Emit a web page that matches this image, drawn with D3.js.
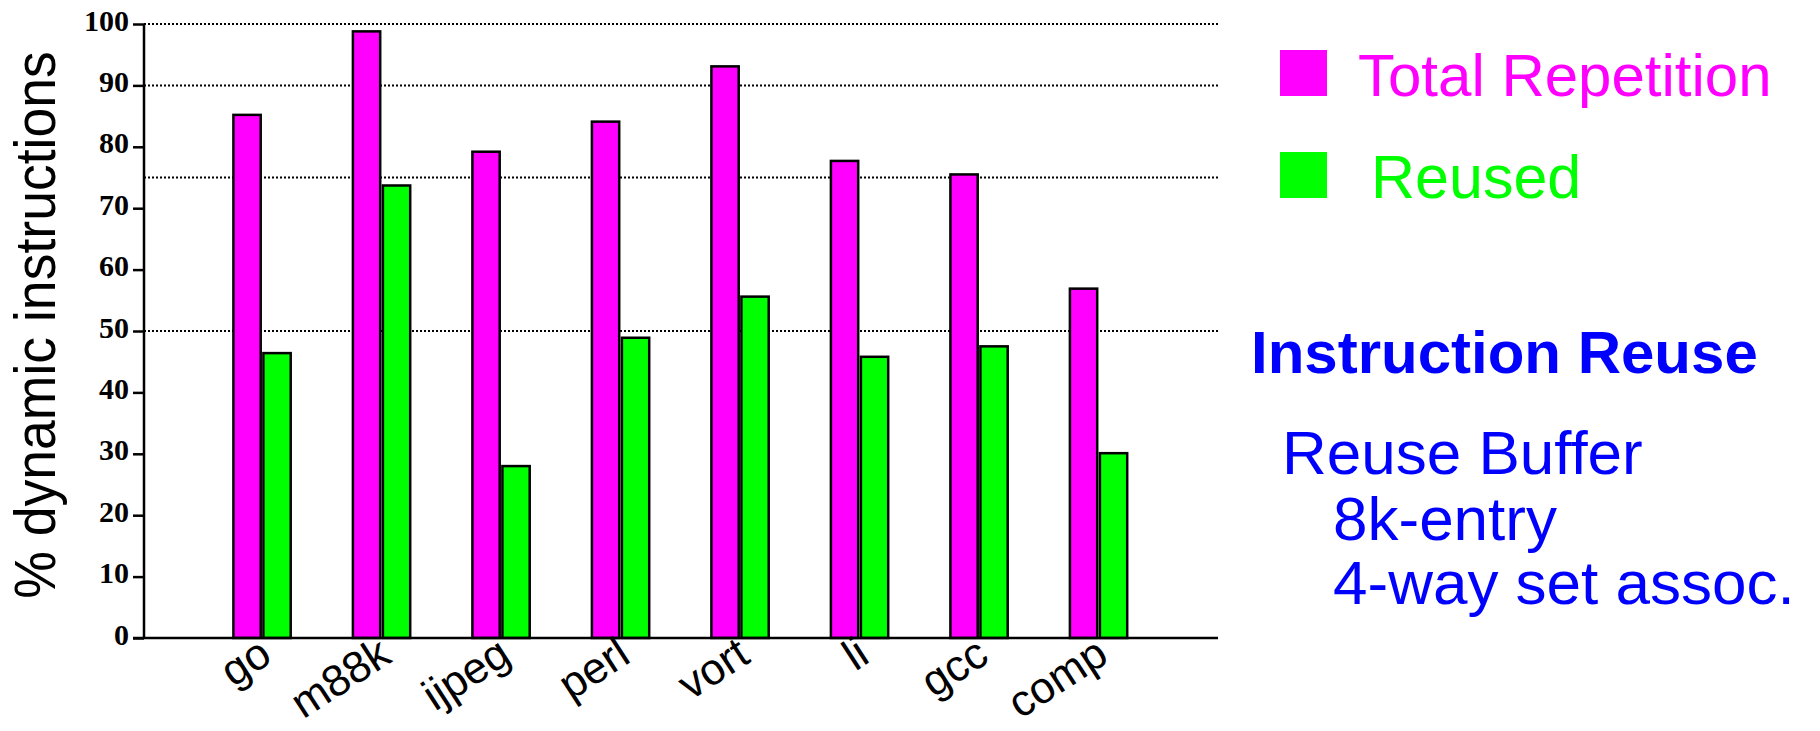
<!DOCTYPE html>
<html>
<head>
<meta charset="utf-8">
<script src="https://cdn.jsdelivr.net/npm/d3@7"></script>
<style>
  html, body { margin: 0; padding: 0; background: #ffffff; }
  svg { display: block; }
</style>
</head>
<body>
<div id="chart"></div>
<script>
// ---- data ----
const categories = ["go", "m88k", "ijpeg", "perl", "vort", "li", "gcc", "comp"];
const totalRepetition = [85.2, 98.8, 79.2, 84.1, 93.1, 77.7, 75.5, 56.9];
const reused = [46.4, 73.7, 28.0, 48.9, 55.6, 45.8, 47.5, 30.1];
const seriesNames = ["Total Repetition", "Reused"];
const yTicks = [0, 10, 20, 30, 40, 50, 60, 70, 80, 90, 100];
const gridValues = [100, 90, 75, 50];
const yLabel = "% dynamic instructions";
const noteTitle = "Instruction Reuse";
const noteLines = ["Reuse Buffer", "8k-entry", "4-way set assoc."];

// ---- layout ----
const W = 1820, H = 731;
const colors = { "Total Repetition": "#ff00ff", "Reused": "#00ff00" };
const axisX = 144, plotRight = 1218;

const svg = d3.select("#chart").append("svg")
  .attr("width", W).attr("height", H)
  .style("font-family", "'Liberation Sans', Arial, Helvetica, sans-serif");

svg.append("rect").attr("width", W).attr("height", H).attr("fill", "#fff");

const y = d3.scaleLinear().domain([0, 100]).range([638, 24]);
const x = d3.scaleBand().domain(categories).range([202.3, 1158.3]).padding(0);
const xs = d3.scaleBand().domain(seriesNames).range([-28.65, 28.65]).paddingInner(0.09);

// gridlines
svg.append("g").selectAll("line").data(gridValues).join("line")
  .attr("x1", axisX).attr("x2", plotRight)
  .attr("y1", d => y(d)).attr("y2", d => y(d))
  .attr("stroke", "#000").attr("stroke-width", 2)
  .attr("stroke-dasharray", "2,2");

// bars
const rows = categories.map((c, i) => ({ c, vals: [
  { s: "Total Repetition", v: totalRepetition[i] },
  { s: "Reused", v: reused[i] } ] }));

const groups = svg.append("g").selectAll("g").data(rows).join("g")
  .attr("transform", d => `translate(${x(d.c) + x.bandwidth() / 2},0)`);

groups.selectAll("rect").data(d => d.vals).join("rect")
  .attr("x", d => xs(d.s))
  .attr("width", xs.bandwidth())
  .attr("y", d => y(d.v))
  .attr("height", d => y(0) - y(d.v))
  .attr("fill", d => colors[d.s])
  .attr("stroke", "#000").attr("stroke-width", 2.5);

// y axis
const yAxis = d3.axisLeft(y).tickValues(yTicks).tickSize(11).tickPadding(4).tickFormat(d3.format("d"));
const ag = svg.append("g").attr("transform", `translate(${axisX},0)`).call(yAxis);
ag.select(".domain").attr("stroke", "#000").attr("stroke-width", 2.5).attr("d", `M0,${y(100)}V${y(0)}`);
ag.selectAll(".tick line").attr("stroke", "#000").attr("stroke-width", 2.5);
ag.selectAll(".tick text")
  .attr("fill", "#000")
  .attr("dy", "0.2em")
  .style("font-family", "'Liberation Serif', 'Times New Roman', serif")
  .style("font-weight", "bold")
  .style("font-size", "30px");

// baseline
svg.append("line").attr("x1", axisX - 11).attr("x2", plotRight)
  .attr("y1", y(0)).attr("y2", y(0))
  .attr("stroke", "#000").attr("stroke-width", 2.5);

// y label
svg.append("text")
  .attr("transform", `translate(55,${(y(0) + y(100)) / 2 - 6}) rotate(-90) scale(0.94,1)`)
  .attr("text-anchor", "middle")
  .style("font-size", "57px")
  .attr("fill", "#000")
  .text(yLabel);

// category labels
svg.append("g").selectAll("text").data(categories).join("text")
  .attr("transform", d => `translate(${x(d) + x.bandwidth() / 2 + 12},661) rotate(-33)`)
  .attr("text-anchor", "end")
  .style("font-size", "44px")
  .attr("fill", "#000")
  .text(d => d);

// legend
const lg = svg.append("g").selectAll("g").data(seriesNames).join("g")
  .attr("transform", (d, i) => `translate(1280,${50 + i * 102})`);
lg.append("rect").attr("width", 47).attr("height", 46).attr("fill", d => colors[d]);
lg.append("text").attr("x", (d, i) => i === 0 ? 78 : 91).attr("y", 46)
  .style("font-size", (d, i) => i === 0 ? "60px" : "61px").attr("fill", d => colors[d]).text(d => d);

// notes
svg.append("text").attr("x", 1251).attr("y", 373)
  .style("font-size", "60px").style("font-weight", "bold").attr("fill", "#0000ff")
  .text(noteTitle);
const noteX = [1282, 1333, 1333];
const noteY = [474, 540, 604];
svg.append("g").selectAll("text").data(noteLines).join("text")
  .attr("x", (d, i) => noteX[i]).attr("y", (d, i) => noteY[i])
  .style("font-size", "62px").attr("fill", "#0000ff")
  .text(d => d);
</script>
</body>
</html>
